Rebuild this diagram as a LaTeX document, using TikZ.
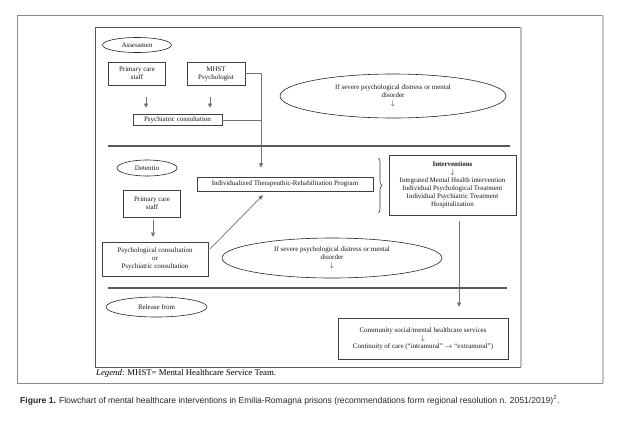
\documentclass[tikz,border=0pt]{standalone}
\usepackage{fontspec}
\setmainfont{Liberation Serif}
\newfontfamily\capfont{Liberation Sans}
\usetikzlibrary{shapes.geometric,arrows.meta,decorations.pathreplacing,calc}
\begin{document}
\begin{tikzpicture}[x=1bp,y=-1bp,
  txt/.style={font=\fontsize{7}{8}\selectfont, text=black!90, align=center},
  box/.style={txt, draw=black!75, line width=0.6bp, inner sep=0pt},
  oval/.style={txt, ellipse, draw=black!85, line width=0.6bp, inner sep=0pt},
  arr/.style={draw=black!55, line width=0.7bp, -{Triangle[width=4bp,length=4.5bp]}},
  link/.style={draw=black!55, line width=0.7bp},
  sepline/.style={draw=black!65, line width=1.1bp}]
\useasboundingbox[fill=white] (0,0) rectangle (624,422);
% frames
\draw[black!45, line width=0.7bp] (603,15) -- (17,15) -- (17,383) -- (603,383);
\draw[black!22, line width=1.2bp] (603,15) -- (603,383);
\draw[black!65, line width=0.7bp] (521,27) -- (95,27) -- (95,367) -- (521,367);
\draw[black!25, line width=1.2bp] (521,27) -- (521,367);
% assessment
\node[oval, minimum width=69bp, minimum height=15bp] (assess) at (137,45) {Assessmen};
\node[box, minimum width=57bp, minimum height=23bp] (pcs1) at (137,73.5) {Primary care\\staff};
\node[box, minimum width=58bp, minimum height=23bp] (mhst) at (216,73.5) {MHST\\Psychologist};
\node[box, minimum width=89bp, minimum height=11bp] (psyc1) at (177.5,120) {Psychiatric consultation};
\node[oval, minimum width=226bp, minimum height=44bp] (ell1) at (393,96) {If severe psychological distress or mental\\disorder\\$\downarrow$};
\coordinate (jx) at (261,0);
\coordinate (a1s) at (146,97);
\coordinate (a1e) at (146,108);
\coordinate (a2s) at (210,97);
\coordinate (a2e) at (210,108);
\draw[arr] (a1s) -- (a1e);
\draw[arr] (a2s) -- (a2e);
\draw[sepline] (108,146) coordinate (s1a) -- (510,146) coordinate (s1b);
% detention
\node[oval, minimum width=60bp, minimum height=16bp] (det) at (147,168) {Detentio};
\node[box, minimum width=176bp, minimum height=14bp] (itrp) at (285,184) {Individualized Therapeuthic-Rehabilitation Program};
\draw[arr, shorten >=9bp] (mhst.east) -- (mhst.east -| jx) -- (jx |- itrp.north);
\draw[link] (psyc1.east) -- (psyc1.east -| jx);
\draw[decorate, decoration={brace, amplitude=4bp}, black!80, line width=0.6bp] (378,158) coordinate (b1) -- (378,213) coordinate (b2);
\node[box, minimum width=127bp, minimum height=60bp] (interv) at (452.5,185) {\textbf{Interventions}\\$\downarrow$\\Integrated Mental Health intervention\\Individual Psychological Treatment\\Individual Psychiatric Treatment\\Hospitalization};
\node[box, minimum width=57bp, minimum height=27bp] (pcs2) at (152,203.5) {Primary care\\staff};
\node[box, minimum width=106bp, minimum height=34bp] (psyc2) at (155,259) {Psychological consultation\\or\\Psychiatric consultation};
\coordinate (a3s) at (153,220);
\coordinate (a3e) at (153,237);
\draw[arr] (a3s) -- (a3e);
\coordinate (d1) at (210,249);
\coordinate (d2) at (263,195);
\draw[arr] (d1) -- (d2);
\node[oval, minimum width=220bp, minimum height=40bp] (ell2) at (332,258) {If severe psychological distress or mental\\disorder\\$\downarrow$};
\draw[sepline] (108,288) coordinate (s2a) -- (507,288) coordinate (s2b);
% release
\node[oval, minimum width=101bp, minimum height=20bp] (rel) at (156.5,307) {Release from};
\node[box, minimum width=170bp, minimum height=41bp] (comm) at (423,338.5) {Community social/mental healthcare services\\$\downarrow$\\Continuity of care (“intramural” $\rightarrow$ “extramural”)};
\coordinate (v1) at (459,221);
\coordinate (v2) at (459,307);
\draw[arr] (v1) -- (v2);
% legend and caption
\node[anchor=west, inner sep=0pt, font=\fontsize{8.8}{10}\selectfont] (legend) at (96,373) {\textit{Legend}: MHST= Mental Healthcare Service Team.};
\node[anchor=west, inner sep=0pt, text=black!85, font=\capfont\fontsize{8.6}{10}\selectfont] (caption) at (20,400) {\textbf{Figure 1.} Flowchart of mental healthcare interventions in Emilia-Romagna prisons (recommendations form regional resolution n. 2051/2019)\textsuperscript{2}.};
\end{tikzpicture}
\end{document}
